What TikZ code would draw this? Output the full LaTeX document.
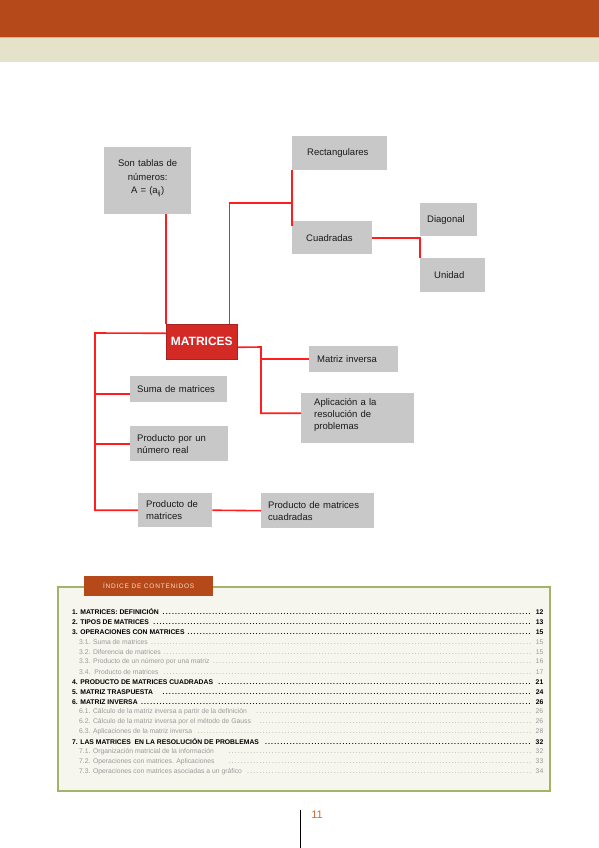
\documentclass[tikz,border=0pt]{standalone}
\usepackage{fontspec}
\setmainfont{Liberation Sans}
\newfontfamily\tabfamily[LetterSpace=12]{Liberation Sans}
\usepackage{xcolor}
\usepackage{tikz}
\usetikzlibrary{calc,positioning}
\definecolor{hdrOrange}{HTML}{B5491A}
\definecolor{hdrRule}{HTML}{D5B48C}
\definecolor{hdrBeige}{HTML}{E4E3CA}
\definecolor{mapGray}{HTML}{C8C8C8}
\definecolor{mapRed}{HTML}{FF1E1E}
\definecolor{mapCore}{HTML}{D42A26}
\definecolor{mapCoreDark}{HTML}{A82222}
\definecolor{idxGreen}{HTML}{A2B46A}
\definecolor{idxCream}{HTML}{F6F5EE}
\definecolor{idxGray}{HTML}{9A9A9A}
\definecolor{tabText}{HTML}{F6DCCB}
\definecolor{pageOrange}{HTML}{D9662E}
\newcommand{\conceptfont}{\fontsize{9.5}{12}\selectfont}
\newcommand{\idxfont}{\fontsize{6.8}{8}\selectfont}
\newcommand{\idxbold}{\fontsize{6.8}{8}\selectfont\bfseries}
\newcommand{\idxrow}[3]{\hbox to #1{#2\ \leaders\hbox to 3.1pt{\hss.\hss}\hfill\kern2.5pt #3}}
\tikzset{
  link/.style={draw=mapRed, line width=1.6pt},
  concept/.style={anchor=north west, fill=mapGray, inner xsep=0pt,
    inner ysep=2pt, align=left, font=\conceptfont, text=black!90},
  core/.style={anchor=north west, fill=mapCore, draw=mapCoreDark,
    line width=0.6pt, text=white, font=\fontsize{12}{14}\selectfont\bfseries,
    minimum width=71pt, minimum height=35pt, inner sep=0pt},
  idx frame/.style={anchor=north west, draw=idxGreen, line width=1.8pt,
    fill=idxCream, minimum width=492pt, minimum height=204pt, inner sep=0pt},
  idx tab/.style={anchor=north west, fill=hdrOrange, text=tabText,
    minimum width=129pt, minimum height=20pt, inner sep=0pt,
    font=\tabfamily\fontsize{6.5}{7}\selectfont},
  idx main/.style={anchor=west, inner sep=0pt, font=\idxbold, text=black},
  idx sub/.style={anchor=west, inner sep=0pt, font=\idxfont, text=idxGray},
  page num/.style={text=pageOrange, font=\fontsize{11}{13}\selectfont, inner sep=0pt}
}

\begin{document}
\begin{tikzpicture}[x=1pt, y=-1pt]
  \useasboundingbox (0,0) rectangle (599,848);
  % page header
  \fill[hdrOrange] (0,0) rectangle (599,37);
  \fill[hdrRule] (0,37) rectangle (599,38.5);
  \fill[hdrBeige] (0,38.5) rectangle (599,62);

  % concept map
  \node[concept, align=center, minimum width=87pt, minimum height=67pt, text width=80pt,
    font=\fontsize{9.5}{13.5}\selectfont]
    (son) at (104,147) {Son tablas de\\números:\\A = (a\textsubscript{ij})\\[-6pt]\mbox{}};
  \node[core] (mat) at (166,324) {MATRICES};
  \node[concept, minimum width=95pt, minimum height=34pt, text width=65pt]
    (rect) at (292,136) {Rectangulares};
  \node[concept, minimum width=80pt, minimum height=33pt, text width=52pt]
    (cuad) at (292,221) {Cuadradas};
  \node[concept, minimum width=57pt, minimum height=33pt, text width=43pt]
    (diag) at (420,203) {Diagonal};
  \node[concept, minimum width=65pt, minimum height=34pt, text width=37pt]
    (unid) at (420,258) {Unidad};
  \node[concept, minimum width=89pt, minimum height=26pt, text width=73pt]
    (inv) at (309,346) {Matriz inversa};
  \node[concept, minimum width=113pt, minimum height=50pt, text width=87pt]
    (apli) at (301,393) {Aplicación a la\\resolución de\\problemas\\[-4pt]\mbox{}};
  \node[concept, minimum width=97pt, minimum height=26pt, text width=83pt]
    (suma) at (130,376) {Suma de matrices};
  \node[concept, minimum width=98pt, minimum height=35pt, text width=84pt]
    (prodr) at (130,426) {Producto por un\\número real};
  \node[concept, minimum width=74pt, minimum height=34pt, text width=58pt]
    (prodm) at (138,493) {Producto de\\matrices};
  \node[concept, minimum width=113pt, minimum height=35pt, text width=99pt]
    (prodc) at (261,493) {Producto de matrices\\cuadradas};

  \coordinate (busT) at (292,203);
  \coordinate (busL) at (95,333);
  \coordinate (busR) at (261,347);
  \draw[link] (mat.north west |- son.south) -- (mat.north west);
  \draw[link] ([xshift=-8pt]mat.north east) |- (busT);
  \draw[link] (rect.south west) -- ([yshift=-5pt]cuad.north west);
  \draw[link] (cuad.east) -| (unid.north west);
  \draw[link] ([yshift=8.5pt]mat.west) -- (busL) |- (prodm.west);
  \draw[link] (busL |- suma.west) ++(0,5) -- ([yshift=-5pt]suma.west);
  \draw[link] (busL |- prodr.west) -- (prodr.west);
  \draw[link] (prodm.east) -- (prodc.west);
  \draw[link] ([yshift=-5.5pt]mat.east) -- (busR) |- ([yshift=5pt]apli.west);
  \draw[link] (busR |- inv.west) -- (inv.west);

  % table of contents
  \node[idx frame] (idxbox) at (57,586) {};
  \node[idx tab] (idxtab) at (84,576) {ÍNDICE DE CONTENIDOS};
  \node[idx main] (i1) at (72,612) {\idxrow{471pt}{1. MATRICES: DEFINICIÓN}{12}};
  \node[idx main] (i2) at (72,622) {\idxrow{471pt}{2. TIPOS DE MATRICES}{13}};
  \node[idx main] (i3) at (72,632) {\idxrow{471pt}{3. OPERACIONES CON MATRICES}{15}};
  \node[idx sub] (i31) at (79,642) {\idxrow{464pt}{3.1. Suma de matrices}{15}};
  \node[idx sub] (i32) at (79,652) {\idxrow{464pt}{3.2. Diferencia de matrices}{15}};
  \node[idx sub] (i33) at (79,662) {\idxrow{464pt}{3.3. Producto de un número por una matriz}{16}};
  \node[idx sub] (i34) at (79,672) {\idxrow{464pt}{3.4.\ \ Producto de matrices}{17}};
  \node[idx main] (i4) at (72,682) {\idxrow{471pt}{4. PRODUCTO DE MATRICES CUADRADAS}{21}};
  \node[idx main] (i5) at (72,692) {\idxrow{471pt}{5. MATRIZ TRASPUESTA\hspace{5pt}}{24}};
  \node[idx main] (i6) at (72,702) {\idxrow{471pt}{6. MATRIZ INVERSA}{26}};
  \node[idx sub] (i61) at (79,712) {\idxrow{464pt}{6.1. Cálculo de la matriz inversa a partir de la definición\hspace{5pt}}{26}};
  \node[idx sub] (i62) at (79,722) {\idxrow{464pt}{6.2. Cálculo de la matriz inversa por el método de Gauss\hspace{5pt}}{26}};
  \node[idx sub] (i63) at (79,732) {\idxrow{464pt}{6.3. Aplicaciones de la matriz inversa}{28}};
  \node[idx main] (i7) at (72,742) {\idxrow{471pt}{7. LAS MATRICES\ \ EN LA RESOLUCIÓN DE PROBLEMAS\hspace{3pt}}{32}};
  \node[idx sub] (i71) at (79,752) {\idxrow{464pt}{7.1. Organización matricial de la información\hspace{10pt}}{32}};
  \node[idx sub] (i72) at (79,762) {\idxrow{464pt}{7.2. Operaciones con matrices. Aplicaciones\hspace{10pt}}{33}};
  \node[idx sub] (i73) at (79,772) {\idxrow{464pt}{7.3. Operaciones con matrices asociadas a un gráfico}{34}};

  % folio
  \coordinate (folioTop) at (300,810);
  \coordinate (folioBot) at (300,848);
  \draw[line width=0.8pt] (folioTop) -- (folioBot);
  \node[page num] (folio) at (317,815) {11};
\end{tikzpicture}
\end{document}
